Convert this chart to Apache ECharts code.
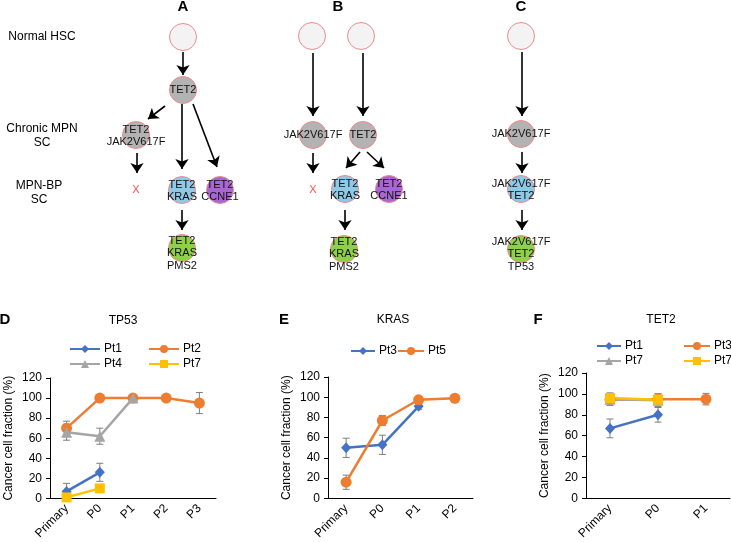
<!DOCTYPE html>
<html><head><meta charset="utf-8">
<script src="https://cdn.jsdelivr.net/npm/echarts@6/dist/echarts.min.js"></script>
<style>html,body{margin:0;padding:0;background:#fff}#c{width:731px;height:542px}</style>
</head><body><div id="c"></div>
<script>
const FONT = '"Liberation Sans", Arial, Helvetica, sans-serif';

// ---------- clonal evolution diagram (layout units on hidden axes) ----------
const treeNodeIds   = ['A0','A1','A2','A3','A4','A5','B0','B1','B2','B3','B4','B5','B6','C0','C1','C2','C3'];
const treeNodeX     = [183,183,136,182,220,182, 312,361,313,363,345,389,344, 521,521,521,521];
const treeNodeY     = [37, 90, 135,190,190,248, 36, 36, 135,135,189,189,249, 36, 134,189,249];
const treeNodeKind  = ['hsc','g','g','b','p','gr','hsc','hsc','g','g','b','p','gr','hsc','g','b','gr'];
const treeNodeText  = ['','TET2','TET2\nJAK2V617F','TET2\nKRAS','TET2\nCCNE1','TET2\nKRAS\nPMS2',
                       '','','JAK2V617F','TET2','TET2\nKRAS','TET2\nCCNE1','TET2\nKRAS\nPMS2',
                       '','JAK2V617F','JAK2V617F\nTET2','JAK2V617F\nTET2\nTP53'];
const treeArrows = [
  [[183,52],[183,75]], [[165,106],[148,119]], [[182,104],[182,169]], [[193,104],[217,167]],
  [[137,153],[137,173]], [[182,210],[182,230]],
  [[313,53],[313,116]], [[363,53],[363,116]], [[313,153],[313,173]],
  [[360,152],[346,168]], [[367,152],[384,168]], [[345,210],[345,230]],
  [[522,52],[522,116]], [[522,152],[522,173]], [[522,210],[522,230]]
];
const lostClonesX = [136, 313];
const lostClonesY = [190, 190];

// ---------- panel D: TP53 ----------
const catD = ['Primary','P0','P1','P2','P3'];
const dPt1 = [7, 26, null, null, null];   const dPt1Err = [8, 9, 0, 0, 0];
const dPt2 = [70, 100, 100, 100, 95];     const dPt2Err = [7, 0, 0, 0, 10.5];
const dPt4 = [66, 62, 100, null, null];   const dPt4Err = [8, 8, 0, 0, 0];
const dPt7 = [1, 10, null, null, null];   const dPt7Err = [0, 0, 0, 0, 0];

// ---------- panel E: KRAS ----------
const catE = ['Primary','P0','P1','P2'];
const ePt3 = [50, 53, 91, null];          const ePt3Err = [9.5, 9.5, 3, 0];
const ePt5 = [16, 77, 97.5, 99];          const ePt5Err = [7, 5, 0, 0];

// ---------- panel F: TET2 ----------
const catF = ['Primary','P0','P1'];
const fPt1 = [67, 80, null];              const fPt1Err = [9, 7, 0];
const fPt3 = [94.5, 95, 95];              const fPt3Err = [0, 5, 5.5];
const fPt7a = [95, 94, null];             const fPt7aErr = [6, 6, 0];
const fPt7b = [96, 94.5, null];           const fPt7bErr = [0, 0, 0];

const yTicks = [0, 20, 40, 60, 80, 100, 120];

const BLUE = '#4472C4', ORANGE = '#ED7D31', GRAY = '#A5A5A5', YELLOW = '#FFC000';
const fills = { hsc: '#f3f3f3', g: '#b3b3b3', b: '#8ecae6', p: '#a766d3', gr: '#8ed04a' };

const chart = echarts.init(document.getElementById('c'), null, { renderer: 'canvas' });

function nodeLabelOffset(t) {
  const n = t ? t.split('\n').length : 0;
  return n === 3 ? [0, 5] : (n === 2 ? [0, 1] : [0, 0]);
}

const nodeData = treeNodeIds.map((id, i) => ({
  value: [treeNodeX[i], treeNodeY[i]],
  itemStyle: { color: fills[treeNodeKind[i]], borderColor: '#f08a8a', borderWidth: 1, opacity: 1 },
  label: { show: !!treeNodeText[i], formatter: treeNodeText[i], offset: nodeLabelOffset(treeNodeText[i]) }
}));

function errData(vals, errs) {
  const out = [];
  vals.forEach((v, i) => { if (v != null && errs[i] > 0) out.push([i, v - errs[i], v + errs[i]]); });
  return out;
}
function errSeries(vals, errs, ai) {
  return {
    type: 'custom', xAxisIndex: ai, yAxisIndex: ai, z: 1, silent: true,
    data: errData(vals, errs),
    renderItem: function (params, api) {
      const x = api.value(0), lo = api.value(1), hi = api.value(2);
      const p1 = api.coord([x, lo]), p2 = api.coord([x, hi]);
      const st = { stroke: '#7f7f7f', lineWidth: 1 };
      const c = 3.5;
      return { type: 'group', children: [
        { type: 'line', shape: { x1: p1[0], y1: p1[1], x2: p2[0], y2: p2[1] }, style: st },
        { type: 'line', shape: { x1: p1[0]-c, y1: p1[1], x2: p1[0]+c, y2: p1[1] }, style: st },
        { type: 'line', shape: { x1: p2[0]-c, y1: p2[1], x2: p2[0]+c, y2: p2[1] }, style: st }
      ]};
    }
  };
}
function lineSeries(name, data, color, symbol, size, ai) {
  return {
    type: 'line', name, data, xAxisIndex: ai, yAxisIndex: ai,
    symbol, symbolSize: size, showSymbol: true, connectNulls: false, z: 3,
    lineStyle: { color, width: 2.5 }, itemStyle: { color, opacity: 1 }
  };
}
function legendItem(name, left, top, w) {
  return {
    data: [name], left, top, padding: 0, itemWidth: w, itemHeight: 10, itemGap: 0,
    selectedMode: false, formatter: n => n.split('_')[1].replace(/[ab]$/, ''),
    textStyle: { fontSize: 12, color: '#000', fontFamily: FONT, padding: [0, 0, 0, -1] }
  };
}
function catAxis(cats, gi) {
  return {
    type: 'category', gridIndex: gi, data: cats, boundaryGap: true,
    axisLine: { lineStyle: { color: '#000', width: 1 } },
    axisTick: { alignWithLabel: true, length: 5, lineStyle: { color: '#000' } },
    axisLabel: { rotate: 45, fontSize: 12, color: '#000', fontFamily: FONT, margin: 8 },
    splitLine: { show: false }
  };
}
function valAxis(gi) {
  return {
    type: 'value', gridIndex: gi, min: yTicks[0], max: yTicks[yTicks.length - 1], interval: yTicks[1] - yTicks[0],
    name: 'Cancer cell fraction (%)', nameLocation: 'middle', nameGap: 35,
    nameTextStyle: { fontSize: 12, color: '#000', fontFamily: FONT },
    axisLine: { show: true, lineStyle: { color: '#000', width: 1 } },
    axisTick: { show: true, length: 4, lineStyle: { color: '#000' } },
    axisLabel: { fontSize: 12, color: '#000', fontFamily: FONT, margin: 8 },
    splitLine: { show: false }
  };
}

function txt(text, x, y, size, bold) {
  return { type: 'text', x, y, silent: true, style: {
    text, fill: '#000', font: (bold ? 'bold ' : '') + size + 'px ' + FONT,
    textAlign: 'center', textVerticalAlign: 'middle' } };
}

const option = {
  animation: false,
  backgroundColor: '#fff',
  textStyle: { fontFamily: FONT },
  grid: [
    { left: 0, top: 0, width: 731, height: 300 },
    { left: 50, top: 378, width: 166, height: 126 },
    { left: 328, top: 377, width: 145, height: 126 },
    { left: 586, top: 373, width: 144, height: 129 }
  ],
  xAxis: [
    { type: 'value', gridIndex: 0, min: 0, max: 731, show: false },
    catAxis(catD, 1), catAxis(catE, 2), catAxis(catF, 3)
  ],
  yAxis: [
    { type: 'value', gridIndex: 0, min: 0, max: 300, inverse: true, show: false },
    valAxis(1), valAxis(2), valAxis(3)
  ],
  legend: [
    legendItem('D_Pt1', 69, 343, 30), legendItem('D_Pt2', 148, 343, 30),
    legendItem('D_Pt4', 69, 358, 30), legendItem('D_Pt7', 148, 358, 30),
    legendItem('E_Pt3', 350, 345, 24), legendItem('E_Pt5', 397, 345, 26),
    legendItem('F_Pt1', 596, 340, 24), legendItem('F_Pt3', 683, 340, 26),
    legendItem('F_Pt7a', 596, 355, 24), legendItem('F_Pt7b', 683, 355, 26)
  ],
  graphic: [
    txt('A', 183, 7, 15, true), txt('B', 338, 7, 15, true), txt('C', 521, 7, 15, true),
    txt('D', 5, 320, 15, true), txt('E', 284, 320, 15, true), txt('F', 538, 320, 15, true),
    txt('TP53', 123, 321, 12), txt('KRAS', 393, 320, 12), txt('TET2', 661, 320, 12),
    txt('Normal HSC', 42, 37, 12),
    txt('Chronic MPN', 42, 129, 12), txt('SC', 42, 143, 12),
    txt('MPN-BP', 39, 186, 12), txt('SC', 39, 200, 12)
  ],
  series: [
    {
      type: 'lines', coordinateSystem: 'cartesian2d', xAxisIndex: 0, yAxisIndex: 0, z: 2,
      symbol: ['none', 'arrow'], symbolSize: [8, 10],
      lineStyle: { color: '#000', width: 1.6, opacity: 1 },
      data: treeArrows.map(a => ({ coords: a }))
    },
    {
      type: 'scatter', xAxisIndex: 0, yAxisIndex: 0, z: 3, symbol: 'circle', symbolSize: 27,
      label: { show: true, position: 'inside', color: '#111', fontSize: 11, lineHeight: 12.5, fontFamily: FONT },
      data: nodeData
    },
    {
      type: 'scatter', xAxisIndex: 0, yAxisIndex: 0, z: 3, symbolSize: 1,
      itemStyle: { color: 'rgba(0,0,0,0)' },
      label: { show: true, position: 'inside', formatter: 'X', color: '#ff2020', fontSize: 11, fontFamily: FONT },
      data: lostClonesX.map((x, i) => [x, lostClonesY[i]])
    },
    // D
    errSeries(dPt1, dPt1Err, 1), errSeries(dPt2, dPt2Err, 1), errSeries(dPt4, dPt4Err, 1), errSeries(dPt7, dPt7Err, 1),
    lineSeries('D_Pt1', dPt1, BLUE, 'diamond', [10, 11], 1),
    lineSeries('D_Pt2', dPt2, ORANGE, 'circle', 11, 1),
    lineSeries('D_Pt4', dPt4, GRAY, 'triangle', 11, 1),
    lineSeries('D_Pt7', dPt7, YELLOW, 'rect', 10, 1),
    // E
    errSeries(ePt3, ePt3Err, 2), errSeries(ePt5, ePt5Err, 2),
    lineSeries('E_Pt3', ePt3, BLUE, 'diamond', [10, 11], 2),
    lineSeries('E_Pt5', ePt5, ORANGE, 'circle', 11, 2),
    // F
    errSeries(fPt1, fPt1Err, 3), errSeries(fPt3, fPt3Err, 3), errSeries(fPt7a, fPt7aErr, 3), errSeries(fPt7b, fPt7bErr, 3),
    lineSeries('F_Pt1', fPt1, BLUE, 'diamond', [10, 11], 3),
    lineSeries('F_Pt3', fPt3, ORANGE, 'circle', 11, 3),
    lineSeries('F_Pt7a', fPt7a, GRAY, 'triangle', 11, 3),
    lineSeries('F_Pt7b', fPt7b, YELLOW, 'rect', 10, 3)
  ]
};
chart.setOption(option);
</script></body></html>
